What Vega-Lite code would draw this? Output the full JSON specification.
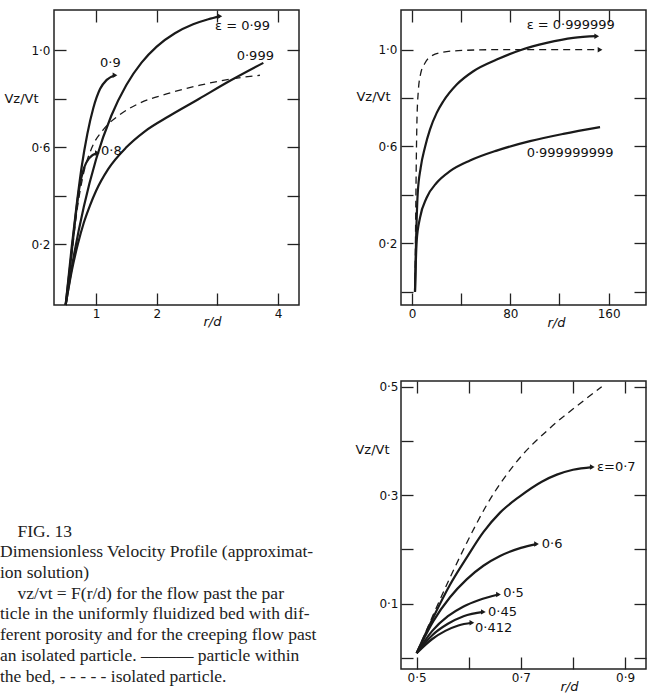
{
  "$schema": "https://vega.github.io/schema/vega-lite/v6.json",
  "background": "white",
  "padding": {"left": 0, "top": 8, "right": 0, "bottom": 0},
  "columns": 2,
  "spacing": {"row": 76, "column": 102},
  "bounds": "flush",
  "config": {
    "view": {"stroke": "#222", "strokeWidth": 1.5},
    "axis": {"domain": false, "grid": false, "ticks": true, "tickSize": -12, "tickColor": "#222", "tickWidth": 1.3,
      "labelFont": "DejaVu Sans", "labelFontSize": 12, "labelColor": "#111", "labelFlush": false, "labelOverlap": false,
      "titleFont": "DejaVu Sans", "titleFontSize": 13, "titleFontWeight": "normal", "titleColor": "#111"}
  },
  "concat": [
    {
      "width": 245, "height": 295,
      "data": {"values": [
        {"curve": "0.9", "x": 0.5, "y": -0.05}, {"curve": "0.9", "x": 0.6, "y": 0.19}, {"curve": "0.9", "x": 0.68, "y": 0.36}, {"curve": "0.9", "x": 0.764, "y": 0.52}, {"curve": "0.9", "x": 0.857, "y": 0.655}, {"curve": "0.9", "x": 0.956, "y": 0.762}, {"curve": "0.9", "x": 1.066, "y": 0.84}, {"curve": "0.9", "x": 1.176, "y": 0.878}, {"curve": "0.9", "x": 1.313, "y": 0.897},
        {"curve": "0.8", "x": 0.5, "y": -0.05}, {"curve": "0.8", "x": 0.583, "y": 0.13}, {"curve": "0.8", "x": 0.654, "y": 0.295}, {"curve": "0.8", "x": 0.725, "y": 0.432}, {"curve": "0.8", "x": 0.802, "y": 0.515}, {"curve": "0.8", "x": 0.89, "y": 0.556}, {"curve": "0.8", "x": 1.022, "y": 0.577},
        {"curve": "0.99", "x": 0.5, "y": -0.05}, {"curve": "0.99", "x": 0.64, "y": 0.16}, {"curve": "0.99", "x": 0.8, "y": 0.356}, {"curve": "0.99", "x": 1.0, "y": 0.55}, {"curve": "0.99", "x": 1.25, "y": 0.729}, {"curve": "0.99", "x": 1.5, "y": 0.857}, {"curve": "0.99", "x": 1.75, "y": 0.949}, {"curve": "0.99", "x": 2.0, "y": 1.015}, {"curve": "0.99", "x": 2.3, "y": 1.07}, {"curve": "0.99", "x": 2.6, "y": 1.107}, {"curve": "0.99", "x": 2.85, "y": 1.128}, {"curve": "0.99", "x": 3.04, "y": 1.14},
        {"curve": "0.999", "x": 0.5, "y": -0.05}, {"curve": "0.999", "x": 0.6, "y": 0.09}, {"curve": "0.999", "x": 0.7, "y": 0.2}, {"curve": "0.999", "x": 0.8, "y": 0.29}, {"curve": "0.999", "x": 0.9, "y": 0.36}, {"curve": "0.999", "x": 1.0, "y": 0.42}, {"curve": "0.999", "x": 1.2, "y": 0.51}, {"curve": "0.999", "x": 1.5, "y": 0.6}, {"curve": "0.999", "x": 1.8, "y": 0.665}, {"curve": "0.999", "x": 2.2, "y": 0.728}, {"curve": "0.999", "x": 2.7, "y": 0.8}, {"curve": "0.999", "x": 3.2, "y": 0.873}, {"curve": "0.999", "x": 3.757, "y": 0.948},
        {"curve": "isolated", "x": 0.5, "y": -0.05}, {"curve": "isolated", "x": 0.6, "y": 0.157}, {"curve": "isolated", "x": 0.693, "y": 0.35}, {"curve": "isolated", "x": 0.791, "y": 0.488}, {"curve": "isolated", "x": 0.929, "y": 0.597}, {"curve": "isolated", "x": 1.121, "y": 0.673}, {"curve": "isolated", "x": 1.395, "y": 0.735}, {"curve": "isolated", "x": 1.725, "y": 0.783}, {"curve": "isolated", "x": 2.164, "y": 0.82}, {"curve": "isolated", "x": 2.713, "y": 0.856}, {"curve": "isolated", "x": 3.262, "y": 0.883}, {"curve": "isolated", "x": 3.7, "y": 0.897}
      ]},
      "resolve": {"axis": {"x": "independent", "y": "independent"}},
      "layer": [
        {
          "transform": [{"filter": "datum.curve != 'isolated'"}],
          "mark": {"type": "line", "color": "#1a1a1a", "strokeWidth": 2.2, "interpolate": "monotone"},
          "encoding": {
            "x": {"field": "x", "type": "quantitative", "scale": {"domain": [0.308, 4.344], "nice": false, "zero": false},
              "axis": {"orient": "bottom", "values": [1, 2, 3, 4], "format": "d", "labelExpr": "datum.value == 3 ? '' : datum.label", "labelPadding": 15,
                "title": "r/d", "titleFontStyle": "italic", "titleX": 158, "titleY": 20, "titleAlign": "center", "titleBaseline": "alphabetic"}},
            "y": {"field": "y", "type": "quantitative", "scale": {"domain": [-0.05, 1.166], "nice": false, "zero": false},
              "axis": {"orient": "left", "values": [0.2, 0.4, 0.6, 0.8, 1.0], "labelExpr": "indexof([0.2, 0.6, 1], datum.value) >= 0 ? replace(format(datum.value, '.1f'), '.', '·') : ''", "labelPadding": 16,
                "title": "Vz/Vt", "titleAngle": 0, "titleX": -33, "titleY": 88, "titleAlign": "center", "titleBaseline": "middle"}},
            "detail": {"field": "curve"}
          }
        },
        {
          "transform": [{"filter": "datum.curve == 'isolated'"}],
          "mark": {"type": "line", "color": "#1a1a1a", "strokeWidth": 1.3, "strokeDash": [7, 5], "interpolate": "monotone"},
          "encoding": {
            "x": {"field": "x", "type": "quantitative", "scale": {"domain": [0.308, 4.344], "nice": false, "zero": false}, "axis": null},
            "y": {"field": "y", "type": "quantitative", "scale": {"domain": [-0.05, 1.166], "nice": false, "zero": false}, "axis": null}
          }
        },
        {
          "transform": [
            {"filter": {"field": "curve", "oneOf": ["0.9", "0.8", "0.99"]}},
            {"joinaggregate": [{"op": "max", "field": "x", "as": "xmax"}], "groupby": ["curve"]},
            {"filter": "datum.x == datum.xmax"}
          ],
          "mark": {"type": "point", "shape": "triangle-right", "filled": true, "size": 30, "color": "#1a1a1a", "opacity": 1},
          "encoding": {
            "x": {"field": "x", "type": "quantitative", "axis": null},
            "y": {"field": "y", "type": "quantitative", "axis": null}
          }
        },
        {
          "data": {"values": [
            {"x": 2.96, "y": 1.098, "label": "ε = 0·99"},
            {"x": 1.066, "y": 0.948, "label": "0·9"},
            {"x": 3.318, "y": 0.978, "label": "0·999"},
            {"x": 1.082, "y": 0.585, "label": "0·8"}
          ]},
          "mark": {"type": "text", "align": "left", "baseline": "middle", "font": "DejaVu Sans", "fontSize": 13, "color": "#111"},
          "encoding": {
            "x": {"field": "x", "type": "quantitative", "axis": {"orient": "top", "values": [1, 2, 3, 4], "labels": false, "title": null}},
            "y": {"field": "y", "type": "quantitative", "axis": {"orient": "right", "values": [0.2, 0.4, 0.6, 0.8, 1.0], "labels": false, "title": null}},
            "text": {"field": "label"}
          }
        }
      ]
    },
    {
      "width": 245, "height": 295,
      "data": {"values": [
        {"curve": "0.999999", "x": 2.44, "y": 0.0}, {"curve": "0.999999", "x": 3.25, "y": 0.195}, {"curve": "0.999999", "x": 4.6, "y": 0.402}, {"curve": "0.999999", "x": 7.05, "y": 0.512}, {"curve": "0.999999", "x": 10.6, "y": 0.598}, {"curve": "0.999999", "x": 14.6, "y": 0.67}, {"curve": "0.999999", "x": 20.1, "y": 0.739}, {"curve": "0.999999", "x": 25.5, "y": 0.787}, {"curve": "0.999999", "x": 36.4, "y": 0.856}, {"curve": "0.999999", "x": 49.9, "y": 0.911}, {"curve": "0.999999", "x": 68.9, "y": 0.959}, {"curve": "0.999999", "x": 89.2, "y": 1.0}, {"curve": "0.999999", "x": 109.6, "y": 1.028}, {"curve": "0.999999", "x": 131.2, "y": 1.049}, {"curve": "0.999999", "x": 150.3, "y": 1.056},
        {"curve": "0.999999999", "x": 2.44, "y": 0.0}, {"curve": "0.999999999", "x": 3.8, "y": 0.209}, {"curve": "0.999999999", "x": 6.5, "y": 0.305}, {"curve": "0.999999999", "x": 11.9, "y": 0.388}, {"curve": "0.999999999", "x": 20.1, "y": 0.45}, {"curve": "0.999999999", "x": 30.9, "y": 0.498}, {"curve": "0.999999999", "x": 47.2, "y": 0.542}, {"curve": "0.999999999", "x": 68.9, "y": 0.583}, {"curve": "0.999999999", "x": 96.0, "y": 0.622}, {"curve": "0.999999999", "x": 123.1, "y": 0.652}, {"curve": "0.999999999", "x": 153.0, "y": 0.68},
        {"curve": "isolated", "x": 2.44, "y": 0.0}, {"curve": "isolated", "x": 2.9, "y": 0.25}, {"curve": "isolated", "x": 3.4, "y": 0.5}, {"curve": "isolated", "x": 4.0, "y": 0.7}, {"curve": "isolated", "x": 5.0, "y": 0.82}, {"curve": "isolated", "x": 7.0, "y": 0.9}, {"curve": "isolated", "x": 10.6, "y": 0.945}, {"curve": "isolated", "x": 14.6, "y": 0.97}, {"curve": "isolated", "x": 25.5, "y": 0.99}, {"curve": "isolated", "x": 41.7, "y": 0.997}, {"curve": "isolated", "x": 68.9, "y": 1.0}, {"curve": "isolated", "x": 153.0, "y": 1.0}
      ]},
      "resolve": {"axis": {"x": "independent", "y": "independent"}},
      "layer": [
        {
          "transform": [{"filter": "datum.curve != 'isolated'"}],
          "mark": {"type": "line", "color": "#1a1a1a", "strokeWidth": 2.2, "interpolate": "monotone"},
          "encoding": {
            "x": {"field": "x", "type": "quantitative", "scale": {"domain": [-8.95, 190.4], "nice": false, "zero": false},
              "axis": {"orient": "bottom", "values": [0, 40, 80, 120, 160], "format": "d", "labelExpr": "indexof([0, 80, 160], datum.value) >= 0 ? datum.label : ''", "labelPadding": 15,
                "title": "r/d", "titleFontStyle": "italic", "titleX": 155, "titleY": 21, "titleAlign": "center", "titleBaseline": "alphabetic"}},
            "y": {"field": "y", "type": "quantitative", "scale": {"domain": [-0.055, 1.164], "nice": false, "zero": false},
              "axis": {"orient": "left", "values": [0, 0.2, 0.4, 0.6, 0.8, 1.0], "labelExpr": "indexof([0.2, 0.6, 1], datum.value) >= 0 ? replace(format(datum.value, '.1f'), '.', '·') : ''", "labelPadding": 16,
                "title": "Vz/Vt", "titleAngle": 0, "titleX": -28, "titleY": 86, "titleAlign": "center", "titleBaseline": "middle"}},
            "detail": {"field": "curve"}
          }
        },
        {
          "transform": [{"filter": "datum.curve == 'isolated'"}],
          "mark": {"type": "line", "color": "#1a1a1a", "strokeWidth": 1.3, "strokeDash": [7, 5], "interpolate": "monotone"},
          "encoding": {
            "x": {"field": "x", "type": "quantitative", "scale": {"domain": [-8.95, 190.4], "nice": false, "zero": false}, "axis": null},
            "y": {"field": "y", "type": "quantitative", "scale": {"domain": [-0.055, 1.164], "nice": false, "zero": false}, "axis": null}
          }
        },
        {
          "transform": [
            {"filter": {"field": "curve", "oneOf": ["0.999999", "isolated"]}},
            {"joinaggregate": [{"op": "max", "field": "x", "as": "xmax"}], "groupby": ["curve"]},
            {"filter": "datum.x == datum.xmax"}
          ],
          "mark": {"type": "point", "shape": "triangle-right", "filled": true, "size": 30, "color": "#1a1a1a", "opacity": 1},
          "encoding": {
            "x": {"field": "x", "type": "quantitative", "axis": null},
            "y": {"field": "y", "type": "quantitative", "axis": null}
          }
        },
        {
          "data": {"values": [
            {"x": 93.3, "y": 1.1, "label": "ε = 0·999999"},
            {"x": 93.3, "y": 0.574, "label": "0·999999999"}
          ]},
          "mark": {"type": "text", "align": "left", "baseline": "middle", "font": "DejaVu Sans", "fontSize": 13, "color": "#111"},
          "encoding": {
            "x": {"field": "x", "type": "quantitative", "axis": {"orient": "top", "values": [0, 40, 80, 120, 160], "labels": false, "title": null}},
            "y": {"field": "y", "type": "quantitative", "axis": {"orient": "right", "values": [0, 0.2, 0.4, 0.6, 0.8, 1.0], "labels": false, "title": null}},
            "text": {"field": "label"}
          }
        }
      ]
    },
    {
      "width": 245, "height": 288,
      "view": {"stroke": null},
      "data": {"values": [
        {"line": 0, "text": "\u200b\u00a0\u00a0\u00a0\u00a0FIG. 13"},
        {"line": 1, "text": "Dimensionless Velocity Profile (approximat-"},
        {"line": 2, "text": "ion solution)"},
        {"line": 3, "text": "\u200b\u00a0\u00a0\u00a0\u00a0vz/vt = F(r/d) for the flow past the par"},
        {"line": 4, "text": "ticle in the uniformly fluidized bed with dif-"},
        {"line": 5, "text": "ferent porosity and for the creeping flow past"},
        {"line": 6, "text": "an isolated particle. ——— particle within"},
        {"line": 7, "text": "the bed, - - - - - isolated particle."}
      ]},
      "mark": {"type": "text", "align": "left", "baseline": "alphabetic", "font": "Liberation Serif", "fontSize": 17.5, "color": "#222"},
      "encoding": {
        "x": {"datum": 0, "type": "quantitative", "scale": {"domain": [0, 1], "range": [-54, 191]}, "axis": null},
        "y": {"field": "line", "type": "quantitative", "scale": {"domain": [0, 7], "range": [155.5, 300.5]}, "axis": null},
        "text": {"field": "text"}
      }
    },
    {
      "width": 245, "height": 288,
      "data": {"values": [
        {"curve": "0.7", "x": 0.5, "y": 0.009}, {"curve": "0.7", "x": 0.532, "y": 0.075}, {"curve": "0.7", "x": 0.564, "y": 0.135}, {"curve": "0.7", "x": 0.596, "y": 0.185}, {"curve": "0.7", "x": 0.628, "y": 0.232}, {"curve": "0.7", "x": 0.66, "y": 0.268}, {"curve": "0.7", "x": 0.698, "y": 0.298}, {"curve": "0.7", "x": 0.74, "y": 0.325}, {"curve": "0.7", "x": 0.769, "y": 0.338}, {"curve": "0.7", "x": 0.8, "y": 0.347}, {"curve": "0.7", "x": 0.837, "y": 0.352},
        {"curve": "0.6", "x": 0.5, "y": 0.009}, {"curve": "0.6", "x": 0.532, "y": 0.068}, {"curve": "0.6", "x": 0.564, "y": 0.112}, {"curve": "0.6", "x": 0.596, "y": 0.145}, {"curve": "0.6", "x": 0.628, "y": 0.17}, {"curve": "0.6", "x": 0.66, "y": 0.188}, {"curve": "0.6", "x": 0.7, "y": 0.203}, {"curve": "0.6", "x": 0.73, "y": 0.21},
        {"curve": "0.5", "x": 0.5, "y": 0.009}, {"curve": "0.5", "x": 0.53, "y": 0.05}, {"curve": "0.5", "x": 0.56, "y": 0.077}, {"curve": "0.5", "x": 0.59, "y": 0.095}, {"curve": "0.5", "x": 0.62, "y": 0.107}, {"curve": "0.5", "x": 0.657, "y": 0.117},
        {"curve": "0.45", "x": 0.5, "y": 0.009}, {"curve": "0.45", "x": 0.53, "y": 0.042}, {"curve": "0.45", "x": 0.56, "y": 0.063}, {"curve": "0.45", "x": 0.59, "y": 0.077}, {"curve": "0.45", "x": 0.628, "y": 0.085},
        {"curve": "0.412", "x": 0.5, "y": 0.009}, {"curve": "0.412", "x": 0.53, "y": 0.035}, {"curve": "0.412", "x": 0.555, "y": 0.05}, {"curve": "0.412", "x": 0.58, "y": 0.06}, {"curve": "0.412", "x": 0.606, "y": 0.065},
        {"curve": "isolated", "x": 0.5, "y": 0.009}, {"curve": "isolated", "x": 0.532, "y": 0.08}, {"curve": "isolated", "x": 0.564, "y": 0.148}, {"curve": "isolated", "x": 0.596, "y": 0.212}, {"curve": "isolated", "x": 0.635, "y": 0.283}, {"curve": "isolated", "x": 0.692, "y": 0.362}, {"curve": "isolated", "x": 0.756, "y": 0.424}, {"curve": "isolated", "x": 0.82, "y": 0.474}, {"curve": "isolated", "x": 0.855, "y": 0.5}
      ]},
      "resolve": {"axis": {"x": "independent", "y": "independent"}},
      "layer": [
        {
          "transform": [{"filter": "datum.curve != 'isolated'"}],
          "mark": {"type": "line", "color": "#1a1a1a", "strokeWidth": 2.2, "interpolate": "monotone"},
          "encoding": {
            "x": {"field": "x", "type": "quantitative", "scale": {"domain": [0.47, 0.94], "nice": false, "zero": false},
              "axis": {"orient": "bottom", "values": [0.5, 0.6, 0.7, 0.8, 0.9], "labelExpr": "indexof([0.5, 0.7, 0.9], datum.value) >= 0 ? replace(format(datum.value, '.1f'), '.', '·') : ''", "labelPadding": 15,
                "title": "r/d", "titleFontStyle": "italic", "titleX": 168, "titleY": 21, "titleAlign": "center", "titleBaseline": "alphabetic"}},
            "y": {"field": "y", "type": "quantitative", "scale": {"domain": [-0.0203, 0.5106], "nice": false, "zero": false},
              "axis": {"orient": "left", "values": [0, 0.1, 0.2, 0.3, 0.4, 0.5], "labelExpr": "indexof([0.1, 0.3, 0.5], datum.value) >= 0 ? replace(format(datum.value, '.1f'), '.', '·') : ''", "labelPadding": 15,
                "title": "Vz/Vt", "titleAngle": 0, "titleX": -29, "titleY": 68, "titleAlign": "center", "titleBaseline": "middle"}},
            "detail": {"field": "curve"}
          }
        },
        {
          "transform": [{"filter": "datum.curve == 'isolated'"}],
          "mark": {"type": "line", "color": "#1a1a1a", "strokeWidth": 1.3, "strokeDash": [7, 5], "interpolate": "monotone"},
          "encoding": {
            "x": {"field": "x", "type": "quantitative", "scale": {"domain": [0.47, 0.94], "nice": false, "zero": false}, "axis": null},
            "y": {"field": "y", "type": "quantitative", "scale": {"domain": [-0.0203, 0.5106], "nice": false, "zero": false}, "axis": null}
          }
        },
        {
          "transform": [
            {"filter": "datum.curve != 'isolated'"},
            {"joinaggregate": [{"op": "max", "field": "x", "as": "xmax"}], "groupby": ["curve"]},
            {"filter": "datum.x == datum.xmax"}
          ],
          "mark": {"type": "point", "shape": "triangle-right", "filled": true, "size": 30, "color": "#1a1a1a", "opacity": 1},
          "encoding": {
            "x": {"field": "x", "type": "quantitative", "axis": null},
            "y": {"field": "y", "type": "quantitative", "axis": null}
          }
        },
        {
          "data": {"values": [
            {"x": 0.846, "y": 0.352, "label": "ε=0·7"},
            {"x": 0.74, "y": 0.21, "label": "0·6"},
            {"x": 0.666, "y": 0.12, "label": "0·5"},
            {"x": 0.637, "y": 0.085, "label": "0·45"},
            {"x": 0.612, "y": 0.055, "label": "0·412"}
          ]},
          "mark": {"type": "text", "align": "left", "baseline": "middle", "font": "DejaVu Sans", "fontSize": 13, "color": "#111"},
          "encoding": {
            "x": {"field": "x", "type": "quantitative", "axis": {"orient": "top", "values": [0.5, 0.6, 0.7, 0.8, 0.9], "labels": false, "title": null}},
            "y": {"field": "y", "type": "quantitative", "axis": {"orient": "right", "values": [0, 0.1, 0.2, 0.3, 0.4, 0.5], "labels": false, "title": null}},
            "text": {"field": "label"}
          }
        }
      ]
    }
  ]
}
